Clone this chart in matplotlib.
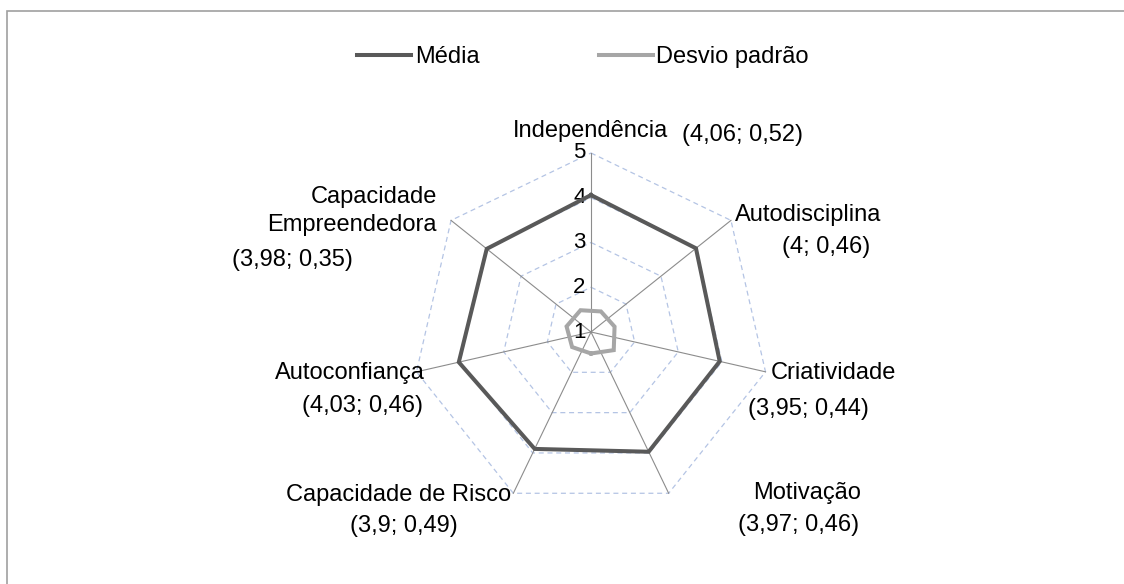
"""Radar chart: média e desvio padrão das características empreendedoras."""
import numpy as np
import matplotlib.pyplot as plt
import matplotlib as mpl
from matplotlib.lines import Line2D
from matplotlib.patches import Rectangle

mpl.rcParams.update({
    "font.family": ["Liberation Sans", "DejaVu Sans"],
    "font.size": 17,
})

categories = ["Independência", "Autodisciplina", "Criatividade", "Motivação",
              "Capacidade de Risco", "Autoconfiança",
              "Capacidade\nEmpreendedora"]
media = [4.06, 4.00, 3.95, 3.97, 3.90, 4.03, 3.98]
desvio = [0.52, 0.46, 0.44, 0.46, 0.49, 0.46, 0.35]
value_labels = ["(4,06; 0,52)", "(4; 0,46)", "(3,95; 0,44)", "(3,97; 0,46)",
                "(3,9; 0,49)", "(4,03; 0,46)", "(3,98; 0,35)"]
ticks = [1, 2, 3, 4, 5]
RMIN = 1

MEDIA_COLOR = "#595959"
DESVIO_COLOR = "#a6a6a6"
SPOKE_COLOR = "#8c8c8c"
RING_COLOR = "#b4c4e4"

W, H, DPI = 1124, 584, 100
CX, CY, UNIT = 591, 332, 44.75  # centre and px per unit (layout)

fig = plt.figure(figsize=(W / DPI, H / DPI), dpi=DPI)
ax = fig.add_axes([0, 0, 1, 1])
ax.set_xlim(-CX / UNIT, (W - CX) / UNIT)
ax.set_ylim(-(H - CY) / UNIT, CY / UNIT)
ax.set_aspect("equal")
ax.axis("off")

n = len(categories)
theta = np.pi / 2 - np.arange(n) * 2 * np.pi / n


def to_xy(vals):
    # Excel-style radar: values below the minimum reflect through the centre
    r = np.asarray(vals, dtype=float) - RMIN
    x = r * np.cos(theta)
    y = r * np.sin(theta)
    return np.append(x, x[0]), np.append(y, y[0])


# rings
for t in ticks[1:]:
    rx, ry = to_xy([t] * n)
    ax.plot(rx, ry, color=RING_COLOR, lw=0.9, ls=(0, (4, 3)), zorder=1)
# spokes
for th in theta:
    r = ticks[-1] - RMIN
    ax.plot([0, r * np.cos(th)], [0, r * np.sin(th)], color=SPOKE_COLOR,
            lw=0.8, zorder=2)
# tick labels
for t in ticks:
    ax.text(-0.12, t - RMIN, str(t), ha="right", va="center", fontsize=16)

mx, my = to_xy(media)
ax.plot(mx, my, color=MEDIA_COLOR, lw=2.9, zorder=3, solid_joinstyle="miter")
dx, dy = to_xy(desvio)
ax.plot(dx, dy, color=DESVIO_COLOR, lw=2.9, zorder=3, solid_joinstyle="miter")


def px(xp, yp):
    return (xp - CX) / UNIT, (CY - yp) / UNIT


# category / value labels (pixel layout positions)
cat_pos = [(590, 131, "center"), (735, 215, "left"), (771, 373, "left"),
           (753, 493, "left"), (511, 495, "right"), (350, 373, "center"),
           (437, 211, "right")]
val_pos = [(742, 135), (826, 247), (808, 409), (799, 525),
           (404, 526), (362, 406), (292, 260)]
for cat, (xp, yp, ha), val, (vx, vy) in zip(categories, cat_pos,
                                            value_labels, val_pos):
    ax.text(*px(xp, yp), cat, ha=ha, va="center", multialignment="right",
            linespacing=1.4)
    ax.text(*px(vx, vy), val, ha="center", va="center")

# legend
handles = [Line2D([], [], color=MEDIA_COLOR, lw=2.9, label="Média"),
           Line2D([], [], color=DESVIO_COLOR, lw=2.9, label="Desvio padrão")]
fig.legend(handles=handles, loc="center", bbox_to_anchor=(0.5187, 1 - 57 / H),
           ncol=2, frameon=False, handlelength=2.3, handletextpad=0.15,
           columnspacing=5.04, fontsize=17)

# outer chart frame
fig.add_artist(Rectangle((7 / W, -0.05), 1.2, 1.05 - 11 / H,
                         transform=fig.transFigure, fill=False,
                         edgecolor="#a0a0a0", lw=1.2))

fig.savefig("out.png", dpi=DPI)
plt.close(fig)
